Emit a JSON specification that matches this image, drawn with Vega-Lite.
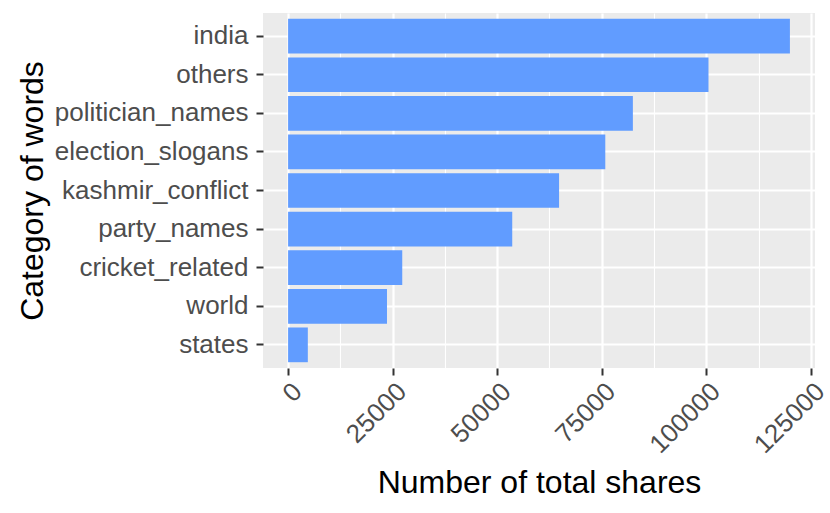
{
  "$schema": "https://vega.github.io/schema/vega-lite/v6.json",
  "width": 552,
  "height": 355,
  "autosize": {"type": "none"},
  "padding": {"left": 263, "top": 13, "right": 15, "bottom": 145},
  "background": "white",
  "config": {
    "font": "Liberation Sans",
    "view": {"fill": "#EBEBEB", "stroke": null},
    "axis": {
      "domain": false,
      "gridColor": "white",
      "tickColor": "#333333",
      "tickWidth": 2,
      "tickSize": 7,
      "labelColor": "#4D4D4D",
      "labelFontSize": 26,
      "labelLimit": 0,
      "titleFontSize": 32,
      "titleFontWeight": "normal",
      "titleColor": "black"
    }
  },
  "data": {
    "values": [
      {"category": "india", "shares": 120000},
      {"category": "others", "shares": 100530},
      {"category": "politician_names", "shares": 82450},
      {"category": "election_slogans", "shares": 75850},
      {"category": "kashmir_conflict", "shares": 64800},
      {"category": "party_names", "shares": 53600},
      {"category": "cricket_related", "shares": 27300},
      {"category": "world", "shares": 23650},
      {"category": "states", "shares": 4720}
    ]
  },
  "mark": {"type": "bar", "color": "#619CFF"},
  "encoding": {
    "y": {
      "field": "category",
      "type": "nominal",
      "sort": {"field": "shares", "order": "descending"},
      "scale": {"paddingInner": 0.1, "paddingOuter": 0.15},
      "axis": {
        "title": "Category of words",
        "titlePadding": 14,
        "labelPadding": 8,
        "grid": true,
        "gridWidth": 2.2,
        "gridColor": "white"
      }
    },
    "x": {
      "field": "shares",
      "type": "quantitative",
      "scale": {"domain": [-6000, 126000], "nice": false, "zero": false},
      "axis": {
        "title": "Number of total shares",
        "values": [0, 12500, 25000, 37500, 50000, 62500, 75000, 87500, 100000, 112500, 125000],
        "format": "d",
        "labelExpr": "datum.value % 25000 === 0 ? datum.value : ''",
        "labelAngle": -45,
        "labelAlign": "right",
        "labelBaseline": "top",
        "labelPadding": 3,
        "gridWidth": {"condition": {"test": "datum.value % 25000 === 0", "value": 2.2}, "value": 1.1},
        "tickOpacity": {"condition": {"test": "datum.value % 25000 === 0", "value": 1}, "value": 0},
        "titlePadding": 10
      }
    }
  }
}
